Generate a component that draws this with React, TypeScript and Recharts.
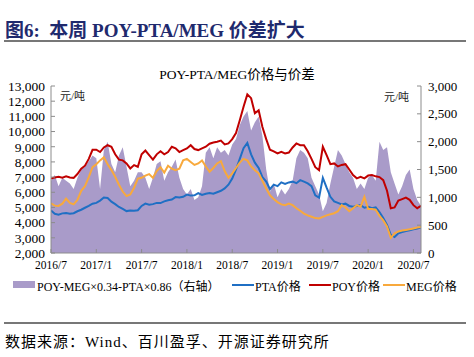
import React from 'react';
import { ComposedChart, Area, Line, XAxis, YAxis } from 'recharts';

// half-month steps starting 2016/7
const tickMonths = [0, 6, 12, 18, 24, 30, 36, 42, 48];
const tickLabels = ['2016/7', '2017/1', '2017/7', '2018/1', '2018/7', '2019/1', '2019/7', '2020/1', '2020/7'];

const poy = [
  6900, 6980, 7020, 6960, 7050, 6980, 6950, 7200, 7550, 7750, 8200, 8800, 8800, 8650, 8950, 9100, 9000, 8500, 8150, 8100,
  7900, 7570, 7790, 7680, 8500, 8750, 8450, 8150, 8500, 8700, 8500, 8650, 9000, 8900, 8650, 8780, 8890, 9100, 8850, 8780,
  8890, 9000, 9200, 9280, 9330, 9400, 9150, 9220, 9500, 9900, 10750, 11630, 12450, 12200, 11200, 11400, 10300, 9500, 8800, 8700,
  8560, 8660, 8560, 8620, 8950, 9215, 9100, 9100, 8700, 8200, 7650, 7460, 9000, 8450, 7850, 7900, 7700, 7800, 7850, 7500,
  7130, 6920, 7020, 6920, 7100, 7130, 7050, 7000, 6800, 6100, 4950, 5000, 5450, 5550, 5650, 5500, 5150, 4950, 5100,
];

const pta = [
  4800, 4580, 4520, 4610, 4640, 4580, 4620, 4750, 4850, 4980, 5100, 5250, 5300, 5450, 5650, 5620, 5380, 5220, 5030, 4900,
  4760, 4800, 4790, 4820, 5100, 5250, 5180, 5220, 5300, 5290, 5400, 5470, 5520, 5680, 5650, 5700, 5850, 5780, 5800, 5950,
  5820, 5900, 5950, 5900, 6000, 6100, 6250, 6500, 6900, 7500, 8200, 8900, 9250, 8500, 7950, 7600, 7000, 6700, 6200, 6500,
  6400, 6650, 6550, 6650, 6700, 6600, 6800, 6700, 6580, 6400, 5800, 5650, 6950, 6300, 5700, 5400, 5300, 5200, 5250, 5100,
  5050, 5100, 5150, 4980, 5050, 4950, 5000, 4700, 4300, 3850, 3200, 3050, 3300, 3380, 3450, 3500, 3560, 3620, 3680,
];

const meg = [
  5270, 5120, 5100, 5250, 5580, 5300, 5200, 5500, 6100, 6400, 7000, 7650, 7850, 8100, 8300, 7850, 7460, 7020, 6500, 6050,
  5750, 5850, 6300, 6900, 6950, 7100, 7200, 6950, 7400, 7650, 7300, 7750, 7550, 7450, 7550, 8100, 8200, 8000, 7800, 7900,
  8100, 7700, 7350, 7600, 7900, 8050, 7400, 6950, 7250, 7600, 7950, 8200, 8100, 7700, 7450, 7250, 6750, 6250, 5800, 5550,
  5350, 5200, 5150, 5250, 5150, 4950, 4780, 4600, 4480, 4390, 4300, 4280, 4380, 4480, 4550, 4620, 4750, 5150, 5000, 4750,
  4950, 5150, 5050, 5700, 4900, 4900, 4850, 4450, 4150, 3750, 3000, 3300, 3420, 3480, 3520, 3560, 3620, 3680, 3720,
];

// POY-MEG×0.34-PTA×0.86, right axis
const spread = [
  1300, 1400, 1200, 1350, 1300, 1250, 1150, 1350, 1500, 1550, 1650, 1750, 1700, 1150, 1850, 2000, 1600, 1450, 1750, 1900,
  1550, 1200, 1300, 1450, 1450, 1350, 1150, 1350, 1600, 1650, 1300, 1450, 1550, 1680, 1350, 1150, 1050, 1150, 950, 1000,
  1200, 1800, 1900, 1700, 1900, 1800, 1850, 1750, 1950, 2050, 2300, 2450, 2550, 2200, 2350, 2450, 2100, 1500, 1100, 1250,
  1000, 1150, 1050, 1150, 1300, 1700, 1850, 1800, 1700, 1350, 1200, 1050, 750, 900, 1250, 1550, 1850, 1750, 1600, 1450,
  1350, 1150, 1250, 1150, 1350, 1400, 1300, 2000, 1850, 1900, 1450, 1250, 1050, 1200, 1400, 1500, 1150, 950, 850,
];

const data = spread.map((s, i) => ({ t: i * 0.5, spread: s, pta: pta[i], poy: poy[i], meg: meg[i] }));

const serif = '"Liberation Serif", "Times New Roman", "Noto Sans CJK SC", serif';
const axisColor = '#8c8c8c';
const areaColor = '#a99bc9';

const legendLines = [
  { label: 'PTA价格', color: '#1f6fc4', x: 232 },
  { label: 'POY价格', color: '#c00000', x: 309 },
  { label: 'MEG价格', color: '#f8a93c', x: 383 },
];

export default function App() {
  return (
    <div style={{ position: 'absolute', left: 0, top: 0, width: 474, height: 357, background: '#fff', fontFamily: serif }}>
      {/* header */}
      <div style={{ position: 'absolute', left: 5, top: 15, fontSize: 19, fontWeight: 'bold', color: '#1f2a6e', whiteSpace: 'nowrap' }}>
        图6:&nbsp; 本周 POY-PTA/MEG 价差扩大
      </div>
      <div style={{ position: 'absolute', left: 4, top: 40, width: 462, height: 1.5, background: '#777' }} />

      <div style={{ position: 'absolute', left: 0, width: 474, top: 63, textAlign: 'center', fontSize: 13.5, color: '#000' }}>
        POY-PTA/MEG价格与价差
      </div>
      <div style={{ position: 'absolute', left: 60, top: 87, fontSize: 11, color: '#222' }}>元/吨</div>
      <div style={{ position: 'absolute', left: 384, top: 88, fontSize: 11, color: '#222' }}>元/吨</div>

      <div style={{ position: 'absolute', left: 0, top: 0 }}>
        <ComposedChart width={474} height={275} data={data} margin={{ top: 86, right: 0, left: 0, bottom: 0 }}>
          <XAxis
            dataKey="t"
            type="number"
            domain={[0, 49]}
            ticks={tickMonths}
            tickFormatter={(v: number) => tickLabels[tickMonths.indexOf(v)]}
            height={22}
            stroke={axisColor}
            tickSize={-4}
            tickMargin={12}
            tick={{ fill: '#000', fontSize: 11.5, fontFamily: serif }}
            allowDataOverflow
          />
          <YAxis
            yAxisId="left"
            domain={[2000, 13000]}
            ticks={[2000, 3000, 4000, 5000, 6000, 7000, 8000, 9000, 10000, 11000, 12000, 13000]}
            tickFormatter={(v: number) => v.toLocaleString('en-US')}
            width={51}
            stroke={axisColor}
            tickSize={-4}
            tickMargin={10}
            tick={{ fill: '#000', fontSize: 13.5, fontFamily: serif }}
            interval={0}
          />
          <YAxis
            yAxisId="right"
            orientation="right"
            domain={[0, 3000]}
            ticks={[0, 500, 1000, 1500, 2000, 2500, 3000]}
            tickFormatter={(v: number) => v.toLocaleString('en-US')}
            width={53}
            stroke={axisColor}
            tickSize={-4}
            tickMargin={11}
            tick={{ fill: '#000', fontSize: 13, fontFamily: serif }}
            interval={0}
          />
          <Area yAxisId="right" type="linear" dataKey="spread" stroke="none" fill={areaColor} fillOpacity={1} isAnimationActive={false} />
          <Line yAxisId="left" type="linear" dataKey="pta" stroke="#1f6fc4" strokeWidth={2} dot={false} isAnimationActive={false} />
          <Line yAxisId="left" type="linear" dataKey="poy" stroke="#c00000" strokeWidth={2} dot={false} isAnimationActive={false} />
          <Line yAxisId="left" type="linear" dataKey="meg" stroke="#f8a93c" strokeWidth={2} dot={false} isAnimationActive={false} />
        </ComposedChart>
      </div>

      {/* legend */}
      <div style={{ position: 'absolute', left: 0, top: 276, width: 474, height: 18, fontSize: 12, color: '#000', whiteSpace: 'nowrap' }}>
        <span style={{ position: 'absolute', left: 13, top: 5, width: 22, height: 7, background: areaColor }} />
        <span style={{ position: 'absolute', left: 37, top: 1 }}>POY-MEG×0.34-PTA×0.86（右轴）</span>
        {legendLines.map((it) => (
          <React.Fragment key={it.label}>
            <span style={{ position: 'absolute', left: it.x, top: 8, width: 22, height: 2, background: it.color }} />
            <span style={{ position: 'absolute', left: it.x + 23, top: 1 }}>{it.label}</span>
          </React.Fragment>
        ))}
      </div>

      <div style={{ position: 'absolute', left: 4, top: 322, width: 462, height: 1.5, background: '#777' }} />
      <div style={{ position: 'absolute', left: 5, top: 330, fontSize: 15, letterSpacing: 1, color: '#000', whiteSpace: 'nowrap' }}>
        数据来源：Wind、百川盈孚、开源证券研究所
      </div>
    </div>
  );
}
